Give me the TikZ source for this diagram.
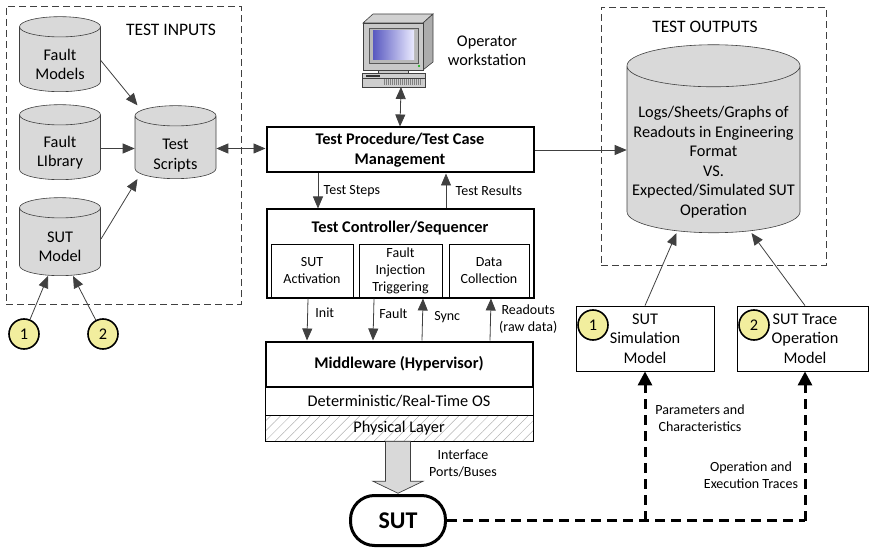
\documentclass[tikz,border=0pt]{standalone}
\usepackage{fontspec}
\setmainfont{Carlito}
\usetikzlibrary{arrows.meta,calc,shapes.geometric,patterns.meta}
\definecolor{dbfill}{HTML}{D9D9D9}
\definecolor{numfill}{HTML}{F2EE9E}
\definecolor{linegray}{HTML}{404040}
\definecolor{crtbody}{HTML}{C9C9C9}
\begin{document}
\begin{tikzpicture}[x=1pt, y=-1pt, semithick,
  every node/.style={font=\fontsize{16.3}{19.5}\selectfont, align=center},
  lbl/.style={font=\fontsize{14}{17}\selectfont},
  hdr/.style={font=\fontsize{17.5}{20}\selectfont},
  bold/.style={font=\fontsize{16.3}{19.5}\selectfont\bfseries},
  db/.style={cylinder, shape border rotate=90, aspect=0.25, draw=linegray, fill=dbfill,
    text width=79, minimum height=75, inner sep=1pt},
  num/.style={circle, draw, line width=1.6pt, fill=numfill, minimum size=30, inner sep=0pt},
  group/.style={draw=linegray, dash pattern=on 7pt off 4pt, line width=0.9pt, inner sep=0pt},
  box/.style={draw, line width=2pt, minimum width=267, minimum height=45, inner sep=2pt},
  sub/.style={draw, line width=0.8pt, minimum height=54, inner sep=1pt, font=\fontsize{14}{17}\selectfont},
  layer/.style={draw, line width=0.8pt, minimum width=268, inner sep=0pt},
  outbox/.style={draw, line width=0.8pt, minimum height=65, inner sep=1pt},
  link/.style={draw=linegray, line width=0.8pt, -{Triangle[length=12pt,width=10pt]}},
  dlink/.style={link, {Triangle[length=12pt,width=10pt]}-{Triangle[length=12pt,width=10pt]}},
  sutline/.style={line width=3pt, dash pattern=on 10pt off 6pt},
  sutlink/.style={sutline, -{Triangle[length=14pt,width=14pt]}}]
  \useasboundingbox (0,0) rectangle (870,548);

  \node [group, minimum width=235, minimum height=298] (inputs) at (123.5,155) {};
  \node [hdr] (inlbl) at (171,30) {TEST INPUTS};
  \node [db] (fm) at (60,60.5) {};
  \node (fmtxt) at ([yshift=-4]fm.center) {Fault\\Models};
  \node [db] (fl) at (60,148.5) {};
  \node (fltxt) at ([yshift=-4]fl.center) {Fault\\LIbrary};
  \node [db, minimum height=78] (sm) at (60,243) {};
  \node (smtxt) at ([yshift=-4]sm.center) {SUT\\Model};
  \node [db, minimum height=73] (scripts) at (175.5,148.5) {};
  \node (scriptstxt) at ([yshift=-7]scripts.center) {Test\\Scripts};
  \node [num] (c1) at (24,334) {1};
  \node [num] (c2) at (103,334) {2};

  \draw [link] (fm.east) -- ([xshift=-38]scripts.north);
  \draw [link] (fl.east) -- (fl.east -| scripts.west);
  \draw [link] ($(sm.center)+(41,-4)$) -- ([xshift=-38]scripts.south);
  \draw [link] (c1) -- ([xshift=-12]sm.south);
  \draw [link] (c2) -- ([xshift=13]sm.south);

  % operator workstation
  \filldraw [draw=linegray, fill=crtbody!85!white, line width=0.6pt] (363,23) -- (373,14) -- (433,14) -- (423,23) -- cycle;
  \filldraw [draw=linegray, fill=gray!65, line width=0.6pt] (423,23) -- (433,14) -- (433,62) -- (423,70) -- cycle;
  \filldraw [draw=linegray, fill=crtbody, line width=0.6pt] (363,23) rectangle (423,70);
  \filldraw [draw=gray!70!black, fill=gray!55, line width=0.4pt] (369,28) rectangle (418,63);
  \shade [left color=blue!45!gray!90, right color=blue!8!white] (373,31) rectangle (414,60);
  \fill [green!70!black] (419,66) circle (1.2);
  \filldraw [draw=linegray, fill=crtbody, line width=0.6pt] (378,70) rectangle (408,73);
  \filldraw [draw=linegray, fill=crtbody!90!white, line width=0.6pt] (362,73) rectangle (425,87);
  \draw [linegray, line width=0.5pt] (362,78) -- (425,78);
  \fill [black!80] (366,75) rectangle (380,77);
  \fill [pattern={Lines[angle=90,distance=2pt,line width=0.4pt]}, pattern color=gray] (383,80) rectangle (422,85);
  \coordinate (ws) at (401,87);
  \node (op) at (487,51) {Operator\\workstation};

  \node [box, bold] (proc) at (400,150) {Test Procedure/Test Case\\Management};
  \node [box, minimum height=88] (ctrl) at (400,253.5) {};
  \node [bold] (ctrltitle) at (400,228) {Test Controller/Sequencer};
  \node [sub, minimum width=82] (act) at (312,271) {SUT\\Activation};
  \node [sub, minimum width=83] (inj) at (400.5,271) {Fault\\Injection\\Triggering};
  \node [sub, minimum width=80] (dat) at (489,271) {Data\\Collection};

  \node [box, bold] (mw) at (399,364) {Middleware (Hypervisor)};
  \node [layer, minimum height=28] (rtos) at (399,401) {Deterministic/Real-Time OS};
  \node [layer, minimum height=26, pattern={Lines[angle=45,distance=7pt,line width=0.5pt]}, pattern color=gray!60] (phys) at (399,428) {};
  \node (physlbl) at (399,428) {Physical Layer};

  \node [draw, line width=3pt, rounded corners=24pt, minimum width=95, minimum height=50,
    font=\fontsize{24}{28}\selectfont\bfseries] (sut) at (398,520.5) {SUT};
  \filldraw [draw=linegray, fill=gray!30, line width=0.7pt]
    ($(phys.south)+(-13.5,0)$) -- ++(0,40) -- ++(-12.5,0) -- ($(phys.south)+(-1,52)$)
    -- ($(phys.south)+(24,40)$) -- ++(-12.5,0) -- ($(phys.south)+(11.5,0)$) -- cycle;
  \node [lbl] (ports) at (463,463.5) {Interface\\Ports/Buses};

  \node [group, minimum width=225, minimum height=258] (outputs) at (713.5,136) {};
  \node [hdr] (outlbl) at (705,27) {TEST OUTPUTS};
  \node [db, text width=171, minimum height=188, aspect=0.243] (out) at (713.5,151) {};
  \node (outtxt) at ([yshift=-11]out.center)
    {Logs/Sheets/Graphs of\\Readouts in Engineering\\Format\\VS.\\Expected/Simulated SUT\\Operation};

  \draw [dlink] (ws) -- (proc.north);
  \draw [dlink] (scripts.east) -- (scripts.east -| proc.west);
  \draw [link] (proc.east) -- (proc.east -| out.west);

  \draw [link] ([xshift=-82]proc.south) -- node[lbl, right, xshift=2] {Test Steps} ([xshift=-82]ctrl.north);
  \draw [link] ([xshift=46]ctrl.north) -- node[lbl, right, xshift=6] {Test Results} ([xshift=46]proc.south);
  \draw [link] ([xshift=-92]ctrl.south) -- node[lbl, right, pos=0.35, xshift=4] {Init} ([xshift=-92]mw.north);
  \draw [link] ([xshift=-26]ctrl.south) -- node[lbl, right, pos=0.35, xshift=2] {Fault} ([xshift=-26]mw.north);
  \draw [link] ([xshift=23]mw.north) -- node[lbl, right, pos=0.55, xshift=8] {Sync} ([xshift=23]ctrl.south);
  \draw [link] ([xshift=91]mw.north) -- node[lbl, right, pos=0.5, xshift=5] {Readouts\\(raw data)} ([xshift=91]ctrl.south);

  \node [outbox, minimum width=138] (sim) at (645,338.5) {SUT\\Simulation\\Model};
  \node [outbox, minimum width=131] (trace) at (802.5,338.5) {\hspace*{5pt}SUT Trace\\\hspace*{5pt}Operation\\\hspace*{5pt}Model};
  \node [num] (s1) at (593,325) {1};
  \node [num] (s2) at (754,325) {2};

  \draw [link] (sim.north) -- ([xshift=-37]out.south);
  \draw [link] ([xshift=2.5]trace.north) -- ([xshift=38]out.south);

  \coordinate (bend) at (805,520.5);
  \coordinate (split) at (sim.south |- sut.east);
  \draw [sutline] (sut.east) -- (bend);
  \draw [sutlink] (bend) -- (bend |- trace.south);
  \draw [sutlink] (split) -- (sim.south);
  \node [lbl] (params) at (700,418) {Parameters and\\Characteristics};
  \node [lbl] (traces) at (751,475) {Operation and\\Execution Traces};
\end{tikzpicture}
\end{document}
